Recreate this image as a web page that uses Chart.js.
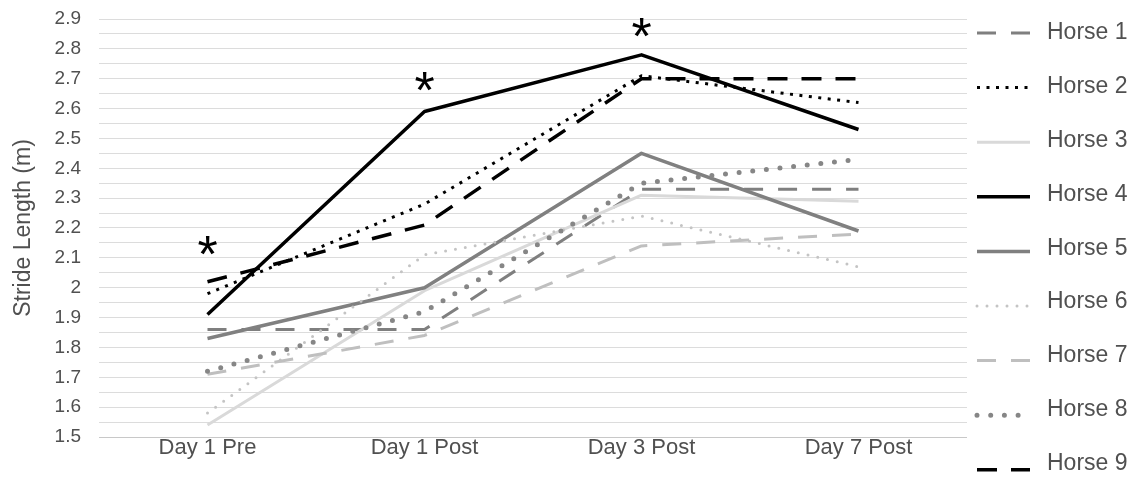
<!DOCTYPE html>
<html>
<head>
<meta charset="utf-8">
<title>Stride Length</title>
<script src="https://cdn.jsdelivr.net/npm/chart.js@4.4.1/dist/chart.umd.min.js"></script>
<style>
  html, body { margin: 0; padding: 0; background: #ffffff; }
  #wrap { width: 1137px; height: 491px; position: relative; }
</style>
</head>
<body>
<div id="wrap"><canvas id="chart"></canvas></div>
<script>
// Measurement days
const categories = ['Day 1 Pre', 'Day 1 Post', 'Day 3 Post', 'Day 7 Post'];

// Stride length (m) per horse
const horse1 = [1.86, 1.86, 2.33, 2.33];
const horse2 = [1.98, 2.28, 2.71, 2.62];
const horse3 = [1.54, 1.99, 2.31, 2.29];
const horse4 = [1.91, 2.59, 2.78, 2.53];
const horse5 = [1.83, 2.00, 2.45, 2.19];
const horse6 = [1.58, 2.11, 2.24, 2.07];
const horse7 = [1.71, 1.84, 2.14, 2.18];
const horse8 = [1.72, 1.92, 2.35, 2.43];
const horse9 = [2.02, 2.21, 2.70, 2.70];

const seriesNames = ['Horse 1', 'Horse 2', 'Horse 3', 'Horse 4', 'Horse 5',
                     'Horse 6', 'Horse 7', 'Horse 8', 'Horse 9'];
const seriesValues = [horse1, horse2, horse3, horse4, horse5, horse6, horse7, horse8, horse9];

// Significance markers: height (m) of the asterisk above each day, null = none
const significance = [2.14, 2.69, 2.87, null];

// Axis range
const yMin = 1.5;
const yMax = 2.9;

// Line styles per horse
const styles = [
  { color: '#7f7f7f', width: 3,   dash: [19, 15],  cap: 'butt'  },
  { color: '#000000', width: 3,   dash: [3, 6.5],  cap: 'butt'  },
  { color: '#d9d9d9', width: 3,   dash: [],        cap: 'butt'  },
  { color: '#000000', width: 3.5, dash: [],        cap: 'butt'  },
  { color: '#808080', width: 3.5, dash: [],        cap: 'butt'  },
  { color: '#c4c4c4', width: 3,   dash: [0, 10],   cap: 'round' },
  { color: '#bfbfbf', width: 3,   dash: [19, 15],  cap: 'butt'  },
  { color: '#868686', width: 5,   dash: [0, 13.7], cap: 'round' },
  { color: '#000000', width: 3.5, dash: [20, 14],  cap: 'butt'  }
];

const datasets = seriesValues.map((vals, i) => ({
  label: seriesNames[i],
  data: vals,
  borderColor: styles[i].color,
  backgroundColor: styles[i].color,
  borderWidth: styles[i].width,
  borderDash: styles[i].dash,
  borderCapStyle: styles[i].cap,
  borderJoinStyle: 'round',
  pointRadius: 0,
  pointHoverRadius: 0,
  tension: 0,
  fill: false,
  order: seriesValues.length - i
}));

// Legend column on the right: line sample + label for every series
const sideLegend = {
  id: 'sideLegend',
  afterDraw(chart, args, opts) {
    const ctx = chart.ctx;
    chart.data.datasets.forEach((ds, i) => {
      const ly = opts.top + i * opts.linePitch;
      const ty = opts.top + i * opts.textPitch;
      ctx.save();
      ctx.strokeStyle = ds.borderColor;
      ctx.lineWidth = ds.borderWidth;
      ctx.lineCap = ds.borderCapStyle || 'butt';
      ctx.setLineDash(ds.borderDash || []);
      ctx.beginPath();
      ctx.moveTo(opts.x, ly);
      ctx.lineTo(opts.x + opts.sampleWidth, ly);
      ctx.stroke();
      ctx.setLineDash([]);
      ctx.fillStyle = opts.color;
      ctx.font = opts.font;
      ctx.textAlign = 'left';
      ctx.textBaseline = 'middle';
      ctx.fillText(ds.label, opts.x + opts.sampleWidth + opts.gap, ty);
      ctx.restore();
    });
  }
};

// Asterisks over the days with a significant difference
const significanceMarks = {
  id: 'significanceMarks',
  afterDatasetsDraw(chart, args, opts) {
    const ctx = chart.ctx;
    const xs = chart.scales.x, ys = chart.scales.y;
    ctx.save();
    ctx.font = opts.font;
    ctx.fillStyle = opts.color;
    ctx.textAlign = 'center';
    ctx.textBaseline = 'alphabetic';
    const m = ctx.measureText('*');
    const shift = (m.actualBoundingBoxAscent - m.actualBoundingBoxDescent) / 2;
    significance.forEach((v, i) => {
      if (v === null) return;
      ctx.fillText('*', xs.getPixelForValue(i), ys.getPixelForValue(v) + shift);
    });
    ctx.restore();
  }
};

new Chart(document.getElementById('chart'), {
  type: 'line',
  data: { labels: categories, datasets: datasets },
  plugins: [sideLegend, significanceMarks],
  options: {
    responsive: true,
    maintainAspectRatio: false,
    animation: false,
    devicePixelRatio: 1,
    layout: { padding: { top: 19, right: 170, bottom: 32, left: 6 } },
    plugins: {
      legend: { display: false },
      tooltip: { enabled: false },
      sideLegend: {
        x: 977, top: 33, linePitch: 54.6, textPitch: 53.8,
        sampleWidth: 53, gap: 17,
        font: '23px "Liberation Sans", Arial, sans-serif',
        color: '#505050'
      },
      significanceMarks: {
        font: '52px "Liberation Sans", Arial, sans-serif',
        color: '#000000'
      }
    },
    scales: {
      x: {
        type: 'category',
        offset: true,
        grid: { display: false, drawTicks: false },
        border: { display: false },
        ticks: {
          padding: 0,
          color: '#505050',
          font: { family: '"Liberation Sans", Arial, sans-serif', size: 22, lineHeight: 1.0 },
          maxRotation: 0,
          autoSkip: false
        }
      },
      y: {
        min: yMin,
        max: yMax,
        border: { display: false },
        afterFit: (scale) => { scale.width = 93; scale.paddingTop = 0; },
        grid: {
          drawTicks: false,
          lineWidth: 1,
          color: (c) => (c.tick && Math.abs(c.tick.value - yMin) < 1e-6) ? '#c8c8c8' : '#dcdcdc'
        },
        ticks: {
          stepSize: 0.05,
          autoSkip: false,
          padding: 18,
          color: '#505050',
          font: { family: '"Liberation Sans", Arial, sans-serif', size: 19 },
          callback: (value) => {
            const r = Math.round(value * 100);
            return r % 10 === 0 ? String(r / 100) : '';
          }
        },
        title: {
          display: true,
          text: 'Stride Length (m)',
          color: '#505050',
          font: { family: '"Liberation Sans", Arial, sans-serif', size: 23 },
          padding: { top: 4, bottom: 4 }
        }
      }
    }
  }
});
</script>
</body>
</html>
